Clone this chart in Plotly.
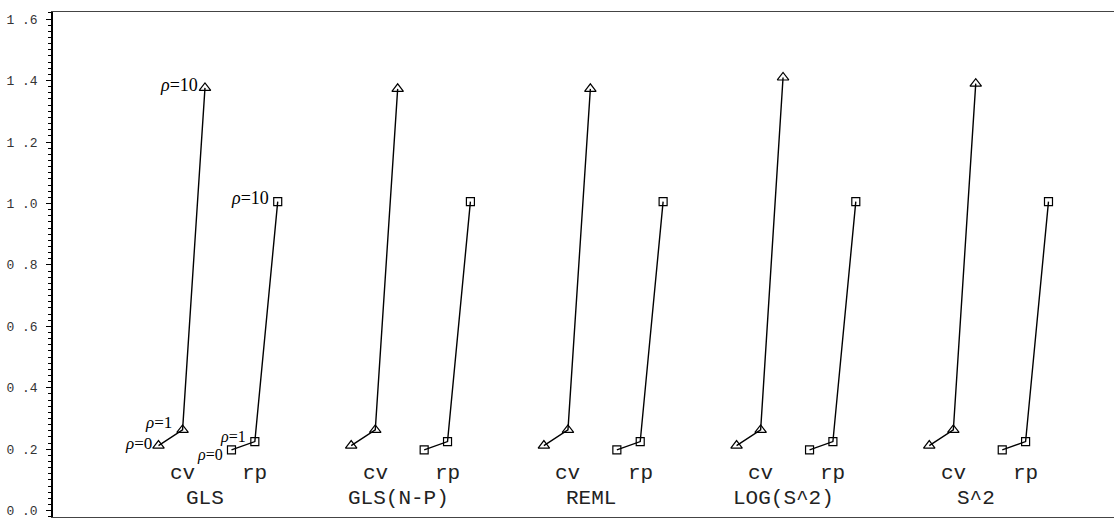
import plotly.graph_objects as go

# ---- data ----
methods = ["GLS", "GLS(N-P)", "REML", "LOG(S^2)", "S^2"]
rho_levels = ["0", "1", "10"]
cv_values = [
    [0.212, 0.263, 1.376],   # GLS
    [0.212, 0.263, 1.373],   # GLS(N-P)
    [0.212, 0.263, 1.373],   # REML
    [0.212, 0.263, 1.410],   # LOG(S^2)
    [0.212, 0.263, 1.390],   # S^2
]
rp_values = [
    [0.198, 0.225, 1.006],
    [0.198, 0.225, 1.006],
    [0.198, 0.225, 1.006],
    [0.198, 0.225, 1.006],
    [0.198, 0.225, 1.006],
]
y_ticks = [0.0, 0.2, 0.4, 0.6, 0.8, 1.0, 1.2, 1.4, 1.6]
y_tick_labels = ["0 .0", "0 .2", "0 .4", "0 .6", "0 .8",
                 "1 .0", "1 .2", "1 .4", "1 .6"]

# ---- layout constants ----
GROUP_STEP = 8.0
CV_OFF = [0.0, 1.0, 1.93]
RP_OFF = [3.03, 4.0, 4.95]
LABEL_FONT = "Liberation Mono"

fig = go.Figure()

for g, m in enumerate(methods):
    base = g * GROUP_STEP
    fig.add_trace(go.Scatter(
        x=[base + o for o in CV_OFF], y=cv_values[g], mode="lines+markers",
        line=dict(color="black", width=1.4),
        marker=dict(symbol="triangle-up-open", size=10, color="black", line=dict(width=1.2)),
        showlegend=False, hoverinfo="skip"))
    fig.add_trace(go.Scatter(
        x=[base + o for o in RP_OFF], y=rp_values[g], mode="lines+markers",
        line=dict(color="black", width=1.4),
        marker=dict(symbol="square-open", size=8, color="black", line=dict(width=1.2)),
        showlegend=False, hoverinfo="skip"))

annotations = []
for g, m in enumerate(methods):
    base = g * GROUP_STEP
    annotations.append(dict(x=base + 1.0, y=0.12, text="cv", showarrow=False,
                            font=dict(family=LABEL_FONT, size=21, color="#222")))
    annotations.append(dict(x=base + 4.0, y=0.12, text="rp", showarrow=False,
                            font=dict(family=LABEL_FONT, size=21, color="#222")))
    annotations.append(dict(x=base + 1.95, y=0.041, text=m, showarrow=False,
                            font=dict(family=LABEL_FONT, size=21, color="#222")))

# rho labels on first group
cv_shifts = [(-5, 2), (-9, 7), (-5, 3)]
rp_shifts = [(-6, -5), (-7, 5), (-7, 4)]
rho_sizes_cv = [17, 17, 18]
rho_sizes_rp = [16, 16, 18]
for i, r in enumerate(rho_levels):
    annotations.append(dict(x=CV_OFF[i], y=cv_values[0][i], text="<i>ρ</i>=" + r,
                            showarrow=False, xanchor="right", yanchor="middle",
                            xshift=cv_shifts[i][0], yshift=cv_shifts[i][1],
                            font=dict(family="Liberation Serif", size=rho_sizes_cv[i], color="black")))
    annotations.append(dict(x=RP_OFF[i], y=rp_values[0][i], text="<i>ρ</i>=" + r,
                            showarrow=False, xanchor="right", yanchor="middle",
                            xshift=rp_shifts[i][0], yshift=rp_shifts[i][1],
                            font=dict(family="Liberation Serif", size=rho_sizes_rp[i], color="black")))

fig.update_layout(
    width=1114, height=518, autosize=False,
    margin=dict(l=53, r=0, t=12, b=1),
    paper_bgcolor="white", plot_bgcolor="white",
    annotations=annotations,
    showlegend=False,
)
fig.update_xaxes(range=[-4.38, 39.67], showgrid=False, zeroline=False,
                 showticklabels=False, ticks="", showline=True, mirror=True,
                 linecolor="#444", linewidth=1)
fig.update_yaxes(range=[-0.0205, 1.6231], showgrid=False, zeroline=False,
                 tickmode="array", tickvals=y_ticks, ticktext=y_tick_labels,
                 ticks="outside", ticklen=5, tickcolor="black", tickwidth=1,
                 minor=dict(dtick=0.02, tick0=0, ticks="outside", ticklen=3, tickcolor="black"),
                 showline=True, linecolor="black", linewidth=1.5,
                 tickfont=dict(family=LABEL_FONT, size=13, color="#333"),
                 ticklabelstandoff=6, ticklabeloverflow="allow")

fig.write_html("out.html")
